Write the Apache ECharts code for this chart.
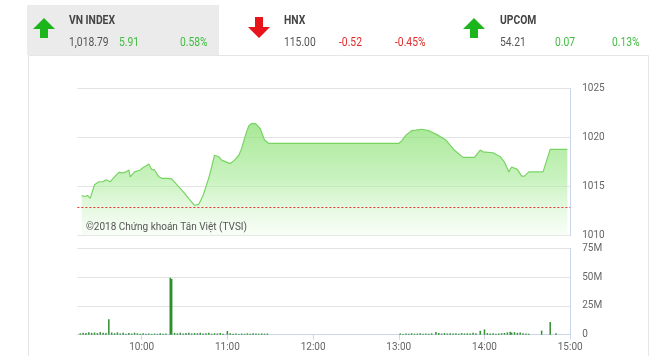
<!DOCTYPE html>
<html>
<head>
<meta charset="utf-8">
<script src="https://cdn.jsdelivr.net/npm/echarts@6.0.0/dist/echarts.min.js"></script>
<style>
html,body{margin:0;padding:0;background:#fff;}
#c{width:660px;height:356px;}
</style>
</head>
<body>
<div id="c"></div>
<script>
// ---- header data ----
var indexNames = ["VN INDEX", "HNX", "UPCOM"];
var indexValues = ["1,018.79", "115.00", "54.21"];
var indexChanges = ["5.91", "-0.52", "0.07"];
var indexPercents = ["0.58%", "-0.45%", "0.13%"];
var indexUp = [true, false, true];

// ---- intraday index line ----
var prevClose = 1012.88;
var lineTimes = ["09:18","09:20","09:22","09:24","09:27","09:30","09:33","09:35","09:38","09:41","09:44","09:47","09:49","09:51","09:52","09:55","09:59","10:01","10:03","10:05","10:07","10:09","10:12","10:14","10:18","10:21","10:24","10:29","10:34","10:37","10:40","10:43","10:45","10:47","10:49","10:51","10:54","10:56","11:02","11:05","11:08","11:10","11:13","11:15","11:17","11:20","11:23","11:26","11:29","12:00","12:30","13:00","13:02","13:05","13:09","13:12","13:16","13:21","13:26","13:33","13:39","13:45","13:53","13:57","13:59","14:06","14:11","14:14","14:17","14:19","14:20","14:23","14:26","14:28","14:31","14:41","14:46","14:58"];
var lineValues = [1014.1,1014.0,1014.1,1013.8,1015.2,1015.5,1015.5,1015.7,1015.5,1016.0,1016.45,1016.4,1016.5,1016.7,1016.0,1016.5,1016.7,1016.95,1017.1,1017.3,1016.75,1016.7,1016.0,1015.85,1015.85,1015.8,1015.3,1014.5,1013.6,1013.1,1013.2,1014.1,1015.0,1015.9,1017.0,1018.2,1018.05,1017.7,1017.35,1017.7,1018.2,1018.9,1020.4,1021.2,1021.45,1021.4,1020.9,1019.75,1019.4,1019.4,1019.4,1019.4,1019.66,1020.25,1020.7,1020.75,1020.85,1020.7,1020.35,1019.75,1018.7,1017.98,1017.98,1018.72,1018.55,1018.45,1018.05,1017.5,1016.5,1017.0,1017.2,1016.76,1016.07,1016.07,1016.5,1016.5,1018.8,1018.8];

// ---- volume bars (millions) ----
var volTimes = ["09:17","09:19","09:21","09:23","09:25","09:27","09:29","09:31","09:33","09:35","09:37","09:39","09:41","09:43","09:45","09:47","09:49","09:51","09:53","09:55","09:57","09:59","10:01","10:03","10:05","10:07","10:09","10:11","10:13","10:15","10:17","10:20","10:21","10:23","10:25","10:27","10:29","10:31","10:33","10:35","10:37","10:39","10:41","10:43","10:45","10:47","10:49","10:51","10:53","10:55","10:57","11:00","11:02","11:04","11:06","11:08","11:10","11:12","11:14","11:16","11:18","11:20","11:22","11:24","11:26","11:28","13:01","13:03","13:05","13:07","13:09","13:11","13:13","13:15","13:17","13:19","13:21","13:23","13:26","13:28","13:30","13:32","13:34","13:36","13:38","13:40","13:42","13:44","13:46","13:48","13:50","13:52","13:54","13:57","14:00","14:02","14:04","14:06","14:08","14:10","14:12","14:14","14:16","14:18","14:19","14:21","14:23","14:25","14:27","14:29","14:31","14:40","14:46","14:50"];
var volValues = [1.2,1.8,1.5,2.1,1.6,1.9,1.4,2.2,1.7,1.5,13.5,1.9,1.3,2.0,1.1,1.6,0.9,1.4,1.0,1.7,1.2,0.8,1.3,0.9,1.1,0.7,1.0,0.8,1.2,0.9,1.1,49.5,48.5,1.6,1.2,1.8,1.0,1.4,1.7,1.1,1.5,1.3,1.8,1.0,1.2,1.6,0.9,1.3,1.1,1.4,0.8,3.2,1.2,0.9,1.1,0.7,1.0,0.8,1.2,0.9,1.3,1.0,0.8,1.1,0.9,1.0,1.0,0.7,1.1,0.8,1.2,0.9,1.0,1.3,0.8,1.1,0.9,1.2,2.3,1.4,1.0,1.5,1.1,1.3,1.0,1.2,0.9,1.4,1.1,1.2,1.0,1.6,1.3,3.5,4.6,1.4,1.0,1.2,0.8,1.1,1.3,1.5,2.0,2.5,1.8,2.2,1.6,1.9,1.2,1.0,0.8,3.5,11.0,1.2];

// ---- axis ticks ----
var hourTicks = ["10:00","11:00","12:00","13:00","14:00","15:00"];
var priceTicks = [1010, 1015, 1020, 1025];
var volumeTicks = [0, 25, 50, 75];

function toMin(s){ var p = s.split(':'); return +p[0]*60 + +p[1]; }
function fmtMin(v){ var h = Math.floor(v/60), m = v%60; return (h<10?'0':'')+h+':'+(m<10?'0':'')+m; }

var lineData = lineTimes.map(function(t,i){ return [toMin(t), lineValues[i]]; });
var volData = volTimes.map(function(t,i){ return [toMin(t), volValues[i]]; });
var hourVals = hourTicks.map(toMin);

var FONT = 'Roboto, "Noto Sans", sans-serif';

// header graphics
var headerX = [69, 284, 500];
var chX = [119, 339, 555];
var pctX = [180, 395, 612];
var arrowX = [33, 248, 463];
var SX = 0.86; // condensed look
var graphics = [
  {type:'rect', shape:{x:28.5,y:55.5,width:620,height:310}, style:{fill:'#fff',stroke:'#e6e6e6',lineWidth:1}, z:-10},
  {type:'rect', shape:{x:27,y:5,width:192,height:50}, style:{fill:'#ebebeb'}, z:-9}
];
function hText(x, y, txt, font, fill){
  return {type:'text', x:x, y:y, scaleX:SX, style:{text:txt, font:font, fill:fill, textVerticalAlign:'middle'}};
}
for (var i=0;i<3;i++){
  var ax = arrowX[i], col;
  if (indexUp[i]) {
    col = '#1cb51c';
    graphics.push({type:'polygon', shape:{points:[[ax+11,18],[ax+22,29],[ax+15,29],[ax+15,38],[ax+7,38],[ax+7,29],[ax,29]]}, style:{fill:col}});
  } else {
    col = '#e8141b';
    graphics.push({type:'polygon', shape:{points:[[ax+11,38],[ax+22,27],[ax+15,27],[ax+15,17],[ax+7,17],[ax+7,27],[ax,27]]}, style:{fill:col}});
  }
  var txtCol = indexUp[i] ? '#44bb44' : '#e02a2a';
  graphics.push(hText(headerX[i], 20.5, indexNames[i], 'bold 12px '+FONT, '#444'));
  graphics.push(hText(headerX[i], 42.5, indexValues[i], '12px '+FONT, '#555'));
  graphics.push(hText(chX[i], 42.5, indexChanges[i], '12px '+FONT, txtCol));
  graphics.push(hText(pctX[i], 42.5, indexPercents[i], '12px '+FONT, txtCol));
}
graphics.push({type:'text', x:86, y:227, z:100, style:{text:'©2018 Chứng khoán Tân Việt (TVSI)', font:'10px '+FONT, fill:'#555', textVerticalAlign:'middle'}});

var chart = echarts.init(document.getElementById('c'), null, {renderer:'canvas'});
chart.setOption({
  animation:false,
  backgroundColor:'#fff',
  graphic: graphics,
  grid:[
    {left:77.4, top:88.5, width:492.8, height:147.2},
    {left:77.4, top:248.3, width:492.8, height:86.4}
  ],
  xAxis:[
    {type:'value', gridIndex:0, min:555, max:900, show:false, splitLine:{show:false}},
    {type:'value', gridIndex:1, min:555, max:900,
      axisLine:{show:true, lineStyle:{color:'#ccd6eb'}},
      axisTick:{show:true, customValues:hourVals, length:5, lineStyle:{color:'#ccd6eb'}},
      axisLabel:{customValues:hourVals, formatter:function(v){return fmtMin(v);}, color:'#666', fontSize:10, fontFamily:FONT, margin:8},
      splitLine:{show:false}}
  ],
  yAxis:[
    {type:'value', gridIndex:0, position:'right', min:priceTicks[0], max:priceTicks[priceTicks.length-1], interval:5,
      axisLine:{show:true, lineStyle:{color:'#ccd6eb'}}, axisTick:{show:false},
      axisLabel:{color:'#666', fontSize:10, fontFamily:FONT, margin:12, formatter:function(v){return String(v);}},
      splitLine:{show:true, lineStyle:{color:'#e3e3e3'}}},
    {type:'value', gridIndex:1, position:'right', min:volumeTicks[0], max:volumeTicks[volumeTicks.length-1], interval:25,
      axisLine:{show:true, lineStyle:{color:'#ccd6eb'}}, axisTick:{show:false},
      axisLabel:{color:'#666', fontSize:10, fontFamily:FONT, margin:12, formatter:function(v){return v===0?'0':v+'M';}},
      splitLine:{show:true, lineStyle:{color:'#e3e3e3'}}}
  ],
  series:[
    {type:'line', xAxisIndex:0, yAxisIndex:0, data:lineData, symbol:'none', smooth:false,
      lineStyle:{color:'#78d462', width:1.2},
      areaStyle:{origin:'start', color:new echarts.graphic.LinearGradient(0,0,0,1,[{offset:0,color:'rgba(130,222,105,1)'},{offset:0.5,color:'rgba(165,234,148,0.85)'},{offset:1,color:'rgba(235,251,232,0.5)'}])},
      markLine:{silent:true, symbol:'none', label:{show:false}, emphasis:{disabled:true}, lineStyle:{color:'#e53935', type:[2,2], width:1, opacity:1}, data:[{yAxis:prevClose, lineStyle:{color:'#e53935', type:[2,2], width:1}}]}
    },
    {type:'bar', xAxisIndex:1, yAxisIndex:1, data:volData, barWidth:1.5, itemStyle:{color:'#2e8f2e'}}
  ]
});
</script>
</body>
</html>
